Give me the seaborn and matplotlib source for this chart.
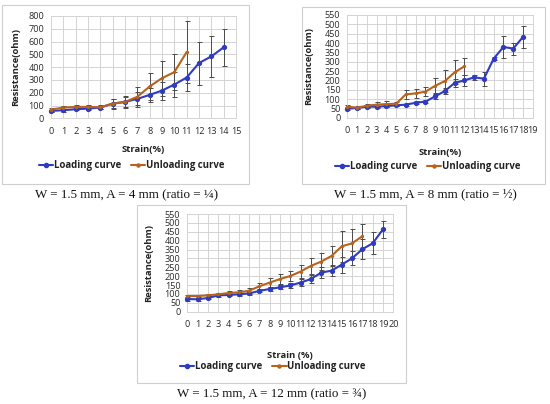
import matplotlib
matplotlib.use("Agg")
import matplotlib.pyplot as plt
import seaborn as sns
import pandas as pd
import numpy as np
from matplotlib.patches import Rectangle
from matplotlib.lines import Line2D

sns.set_theme(style="white")
plt.rcParams['font.family'] = ['Open Sans', 'DejaVu Sans']

# ---------------- data ----------------
# Panel 1: W = 1.5 mm, A = 4 mm
strain1_load = list(range(0, 15))
res1_load = [58, 63, 71, 76, 84, 115, 128, 152, 183, 217, 264, 319, 432, 484, 555]
err1_load = [10, 10, 10, 10, 15, 35, 40, 50, 55, 70, 95, 105, 168, 158, 143]
strain1_unload = list(range(0, 12))
res1_unload = [68, 84, 89, 89, 86, 115, 128, 168, 249, 314, 361, 518]
err1_unload = [15, 15, 15, 15, 15, 39, 47, 78, 102, 136, 138, 244]

# Panel 2: W = 1.5 mm, A = 8 mm
strain2_load = list(range(0, 19))
res2_load = [48, 52, 59, 59, 62, 66, 70, 80, 86, 114, 143, 186, 200, 216, 209, 316, 379, 370, 432]
err2_load = [8, 5, 5, 5, 5, 5, 5, 8, 8, 15, 15, 20, 30, 15, 37, 8, 57, 32, 59]
strain2_unload = list(range(0, 13))
res2_unload = [59, 54, 64, 70, 73, 75, 125, 130, 139, 171, 196, 243, 275]
err2_unload = [8, 5, 8, 15, 15, 10, 25, 25, 23, 40, 60, 64, 45]

# Panel 3: W = 1.5 mm, A = 12 mm
strain3_load = list(range(0, 20))
res3_load = [71, 70, 77, 92, 94, 98, 103, 117, 128, 137, 148, 164, 184, 220, 231, 265, 301, 352, 385, 464]
err3_load = [8, 8, 8, 8, 8, 8, 8, 8, 10, 12, 15, 20, 25, 30, 30, 45, 40, 55, 62, 48]
strain3_unload = list(range(0, 18))
res3_unload = [88, 88, 92, 98, 105, 109, 118, 143, 164, 184, 201, 226, 258, 282, 314, 368, 385, 425]
err3_unload = [5, 5, 5, 5, 12, 15, 18, 20, 25, 30, 28, 35, 43, 47, 55, 88, 80, 70]

series_names = ["Loading curve", "Unloading curve"]
captions = ["W = 1.5 mm, A = 4 mm (ratio = \u00bc)",
            "W = 1.5 mm, A = 8 mm (ratio = \u00bd)",
            "W = 1.5 mm, A = 12 mm (ratio = \u00be)"]
xlabels = ["Strain(%)", "Strain(%)", "Strain (%)"]

# ---------------- layout ----------------
W, H = 550, 404
fig = plt.figure(figsize=(W / 100, H / 100), dpi=100)

def fx(px):
    return px / W

def fy(py):
    return 1 - py / H

BLUE = "#2f3cc0"
BROWN = "#b8621c"
GRID = "#d4d4d4"

panels = [
    dict(box=(2, 5, 249, 184), ax=(51, 16, 236, 118.3), xmax=15, ymax=800, ystep=100,
         load=(strain1_load, res1_load, err1_load), unload=(strain1_unload, res1_unload, err1_unload),
         ylab_x=-0.168, xlab_y=-0.261, leg=(0.436, -0.466), cap=(127, 195)),
    dict(box=(301.5, 7, 545, 184), ax=(347.3, 15, 532.7, 117.7), xmax=19, ymax=550, ystep=50,
         load=(strain2_load, res2_load, err2_load), unload=(strain2_unload, res2_unload, err2_unload),
         ylab_x=-0.183, xlab_y=-0.295, leg=(0.434, -0.48), cap=(425, 194)),
    dict(box=(137, 205, 406, 383), ax=(187.3, 214, 393.3, 311.7), xmax=20, ymax=550, ystep=50,
         load=(strain3_load, res3_load, err3_load), unload=(strain3_unload, res3_unload, err3_unload),
         ylab_x=-0.168, xlab_y=-0.402, leg=(0.416, -0.563), cap=(272, 394)),
]

for i, p in enumerate(panels):
    x0, y0, x1, y1 = p["box"]
    fig.patches.append(Rectangle((fx(x0), fy(y1)), fx(x1 - x0), (y1 - y0) / H,
                                 transform=fig.transFigure, fill=False,
                                 edgecolor="#cfcfcf", linewidth=0.8, zorder=0))
    ax0, ay0, ax1, ay1 = p["ax"]
    ax = fig.add_axes([fx(ax0), fy(ay1), fx(ax1 - ax0), (ay1 - ay0) / H])

    xs, ys, es = p["load"]
    xu, yu, eu = p["unload"]
    df = pd.concat([
        pd.DataFrame({"Strain": xs, "Resistance": ys, "Series": series_names[0]}),
        pd.DataFrame({"Strain": xu, "Resistance": yu, "Series": series_names[1]}),
    ])
    ax.errorbar(xs, ys, yerr=es, fmt="none", ecolor="#4a4a4a", elinewidth=0.7,
                capsize=1.8, capthick=0.7, zorder=2, clip_on=False)
    ax.errorbar(xu, yu, yerr=eu, fmt="none", ecolor="#4a4a4a", elinewidth=0.7,
                capsize=1.8, capthick=0.7, zorder=2, clip_on=False)
    sns.lineplot(data=df, x="Strain", y="Resistance", hue="Series", style="Series",
                 palette={series_names[0]: BLUE, series_names[1]: BROWN},
                 markers={series_names[0]: "o", series_names[1]: "o"},
                 dashes=False, linewidth=1.5, markersize=3.8, markeredgewidth=0,
                 ax=ax, legend=False, zorder=3, clip_on=False)
    for ln in ax.get_lines():
        if matplotlib.colors.to_hex(ln.get_color()) == BROWN:
            ln.set_markersize(2.4)

    ax.set_xlim(0, p["xmax"])
    ax.set_ylim(0, p["ymax"])
    ax.set_xticks(range(0, p["xmax"] + 1))
    ax.set_yticks(np.arange(0, p["ymax"] + 1, p["ystep"]))
    ax.grid(True, color=GRID, linewidth=0.7)
    ax.set_axisbelow(True)
    for s in ax.spines.values():
        s.set_color(GRID)
        s.set_linewidth(0.7)
    ax.tick_params(axis="both", length=0, labelsize=6.6, colors="#2a2a2a")
    ax.tick_params(axis="y", pad=5)
    ax.tick_params(axis="x", pad=6)
    ax.set_xlabel(xlabels[i], fontsize=6.8, fontweight="bold", color="#222222")
    ax.set_ylabel("Resistance(ohm)", fontsize=6.8, fontweight="bold", color="#222222")
    ax.yaxis.set_label_coords(p["ylab_x"], 0.5)
    ax.xaxis.set_label_coords(0.5, p["xlab_y"])

    handles = [Line2D([], [], color=BLUE, marker="o", markersize=3, linewidth=1.5),
               Line2D([], [], color=BROWN, marker="o", markersize=2.2, linewidth=1.5)]
    leg = ax.legend(handles, series_names, loc="center", bbox_to_anchor=p["leg"],
                    ncol=2, frameon=False, handlelength=1.5, handletextpad=0.1,
                    columnspacing=1.0, prop={"size": 6.9, "weight": "bold"})
    for t in leg.get_texts():
        t.set_color("#222222")

    cx, cy = p["cap"]
    fig.text(fx(cx), fy(cy), captions[i], ha="center", va="center",
             fontsize=9.4, family=["Liberation Serif", "DejaVu Serif"], color="#111111")

fig.savefig("out.png", dpi=100, facecolor="white")
